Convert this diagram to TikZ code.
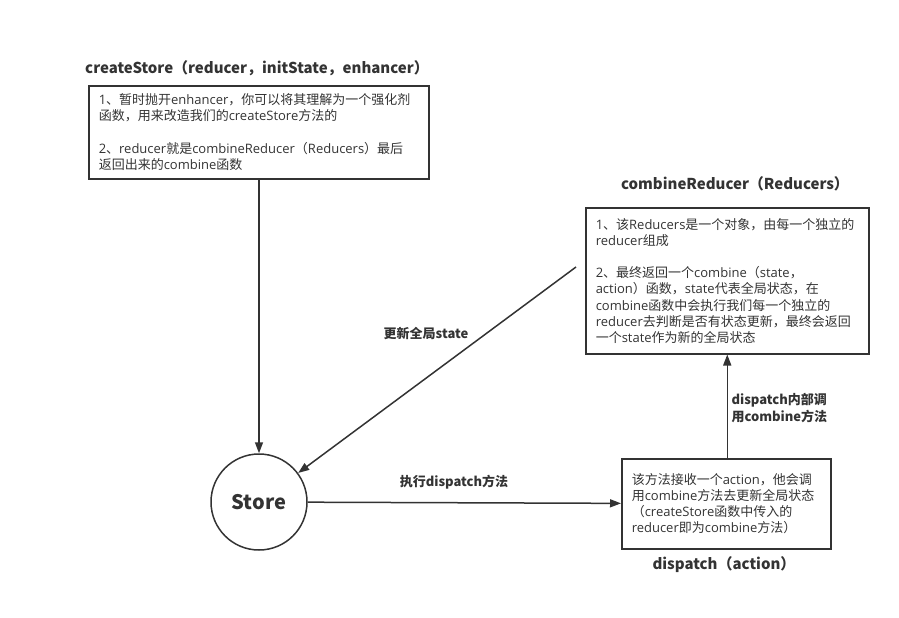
\documentclass[tikz,border=0pt]{standalone}
\usepackage{fontspec}
\setmainfont{Noto Sans CJK SC}
\newfontfamily\lat{Open Sans}
\newcommand\en[1]{{\lat #1}}
\usetikzlibrary{arrows.meta}
\definecolor{ink}{HTML}{333333}
\tikzset{
  box/.style={draw=ink, line width=1.5pt, anchor=north west, align=left, inner xsep=10pt, inner ysep=0pt,
    font=\fontsize{13}{16.2}\selectfont, text=ink},
  title/.style={font=\fontsize{15}{18}\selectfont\bfseries, text=ink},
  lbl/.style={font=\fontsize{13}{17}\selectfont\bfseries, text=ink, align=left},
  conn/.style={draw=ink, line width=1.5pt, -{Triangle[length=11pt,width=8pt]}},
}
\begin{document}
\begin{tikzpicture}[x=1pt,y=-1pt]
\useasboundingbox (0,0) rectangle (899,618);
\node[title] (t1) at (257,68) {createStore（reducer，initState，enhancer）};
\node[box, text width=320pt, minimum height=93pt] (b1) at (88,85)
  {\en{1}、暂时抛开\en{enhancer}，你可以将其理解为一个强化剂\\函数，用来改造我们的\en{createStore}方法的\\[16.2pt]\en{2}、\en{reducer}就是\en{combineReducer}（\en{Reducers}）最后\\返回出来的\en{combine}函数};
\node[title] (t2) at (735,184) {combineReducer（Reducers）};
\node[box, text width=263pt, minimum height=146pt] (b2) at (585,207)
  {\en{1}、该\en{Reducers}是一个对象，由每一个独立的\\\en{reducer}组成\\[16.2pt]\en{2}、最终返回一个\en{combine}（\en{state}，\\\en{action}）函数，\en{state}代表全局状态，在\\\en{combine}函数中会执行我们每一个独立的\\\en{reducer}去判断是否有状态更新，最终会返回\\一个\en{state}作为新的全局状态};
\node[draw=ink, line width=1.5pt, circle, minimum size=96pt, inner sep=0pt, font=\fontsize{20}{24}\selectfont\bfseries, text=ink] (store) at (259,502) {Store};
\node[box, text width=189pt, minimum height=90pt] (b3) at (621,458)
  {该方法接收一个\en{action}，他会调\\用\en{combine}方法去更新全局状态\\（\en{createStore}函数中传入的\\\en{reducer}即为\en{combine}方法）};
\node[title] (t3) at (724,565) {dispatch（action）};
\coordinate (c1) at (576,267);
\draw[conn] (b1.south -| store) -- (store);
\draw[conn] (c1) -- (store);
\draw[conn] (store) -- (b3);
\draw[conn] (b3.north -| b2.south) -- (b2.south);
\node[lbl] (l1) at (426,334) {更新全局state};
\node[lbl] (l2) at (454,482) {执行dispatch方法};
\node[lbl, anchor=west] (l3) at (728,408) {dispatch内部调\\用combine方法};
\end{tikzpicture}
\end{document}
